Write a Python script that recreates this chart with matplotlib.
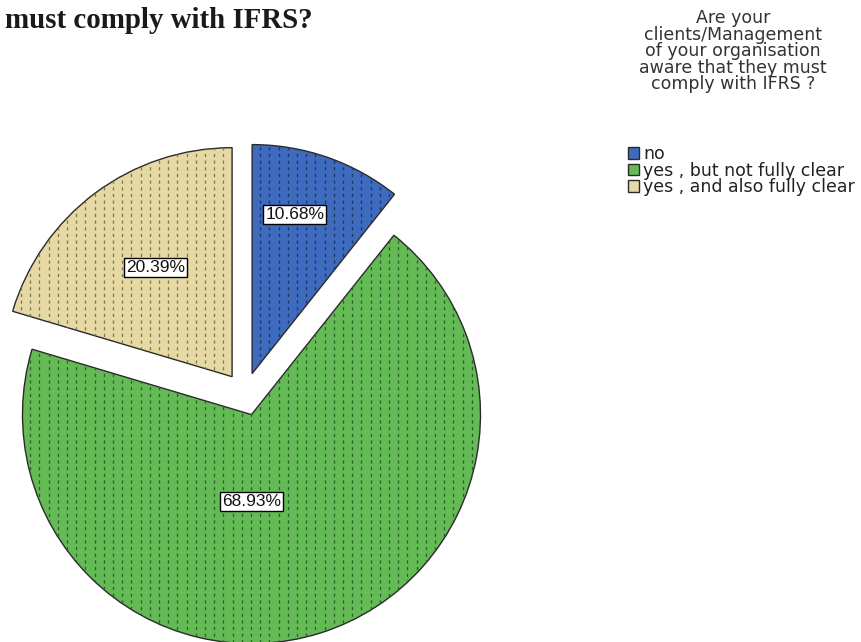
import numpy as np
import matplotlib.pyplot as plt
from matplotlib.collections import LineCollection

# survey answers and their shares (%)
answers = ['no', 'yes , but not fully clear', 'yes , and also fully clear']
shares = [10.68, 68.93, 20.39]
fills = ['#3e6bbd', '#64bb56', '#e6d9a3']
dots = ['#1d3666', '#2c5f27', '#7f7658']

legend_title = ('Are your\nclients/Management\nof your organisation\n'
                'aware that they must\ncomply with IFRS ?')
title = 'must comply with IFRS?'

# where each percentage box sits inside its wedge: (angle deg, fraction of radius)
label_spots = [(75, 0.72), (-90, 0.38), (125, 0.58)]

W, H = 861, 642
R = 229.0          # pie radius in pixels
cx, cy = 245, 394  # pie centre, pixels from the top-left corner
gap = 21.6         # explode distance in pixels

plt.rcParams['font.family'] = 'Liberation Sans'
fig = plt.figure(figsize=(W / 100, H / 100), dpi=100)
ax = fig.add_axes([0, 0, 1, 1])

wedges, _ = ax.pie(shares, colors=fills, startangle=90, counterclock=False,
                   explode=[gap / R] * len(shares),
                   wedgeprops=dict(edgecolor='#2b2b2b', linewidth=1.0))

ax.set_xlim(-cx / R, (W - cx) / R)
ax.set_ylim(-(H - cy) / R, cy / R)
ax.set_aspect('equal')
ax.axis('off')

# SPSS-like dotted fill: columns of short vertical dashes clipped to each wedge
step = 9.2 / R
xs = np.arange(-1.3, 1.3, step)
for w, c in zip(wedges, dots):
    segs = [[(x, -1.4), (x, 1.4)] for x in xs]
    lc = LineCollection(segs, colors=c, linewidths=0.95,
                        linestyles=[(0, (2.4, 2.65))])
    lc.set_clip_path(w)
    ax.add_collection(lc)

for w, pct, (ang, frac) in zip(wedges, shares, label_spots):
    x0, y0 = w.center
    a = np.deg2rad(ang)
    ax.text(x0 + frac * np.cos(a), y0 + frac * np.sin(a), f'{pct:.2f}%',
            ha='center', va='center', fontsize=12.5, color='#111111',
            bbox=dict(boxstyle='square,pad=0.12', fc='white', ec='black', lw=1.0))

fig.text(5 / W, 1 - 28 / H, title, family='Liberation Serif', weight='bold',
         fontsize=20.8, color='#1a1a1a', ha='left', va='baseline')

# legend heading drawn on its own so it can sit well above the entries
fig.text(733 / W, 1 - 9 / H, legend_title, family='DejaVu Sans', fontsize=12.5,
         color='#333333', ha='center', va='top', multialignment='center',
         linespacing=0.9)

leg = ax.legend(wedges, answers, loc='upper left',
                bbox_to_anchor=(628 / W, 1 - 145 / H), bbox_transform=fig.transFigure,
                frameon=False, prop=dict(family='DejaVu Sans', size=12.5),
                handlelength=0.65, handleheight=0.65, handletextpad=0.22,
                labelspacing=-0.08, borderpad=0, borderaxespad=0)
for t in leg.get_texts():
    t.set_color('#222222')

fig.savefig('out.png', dpi=100)
